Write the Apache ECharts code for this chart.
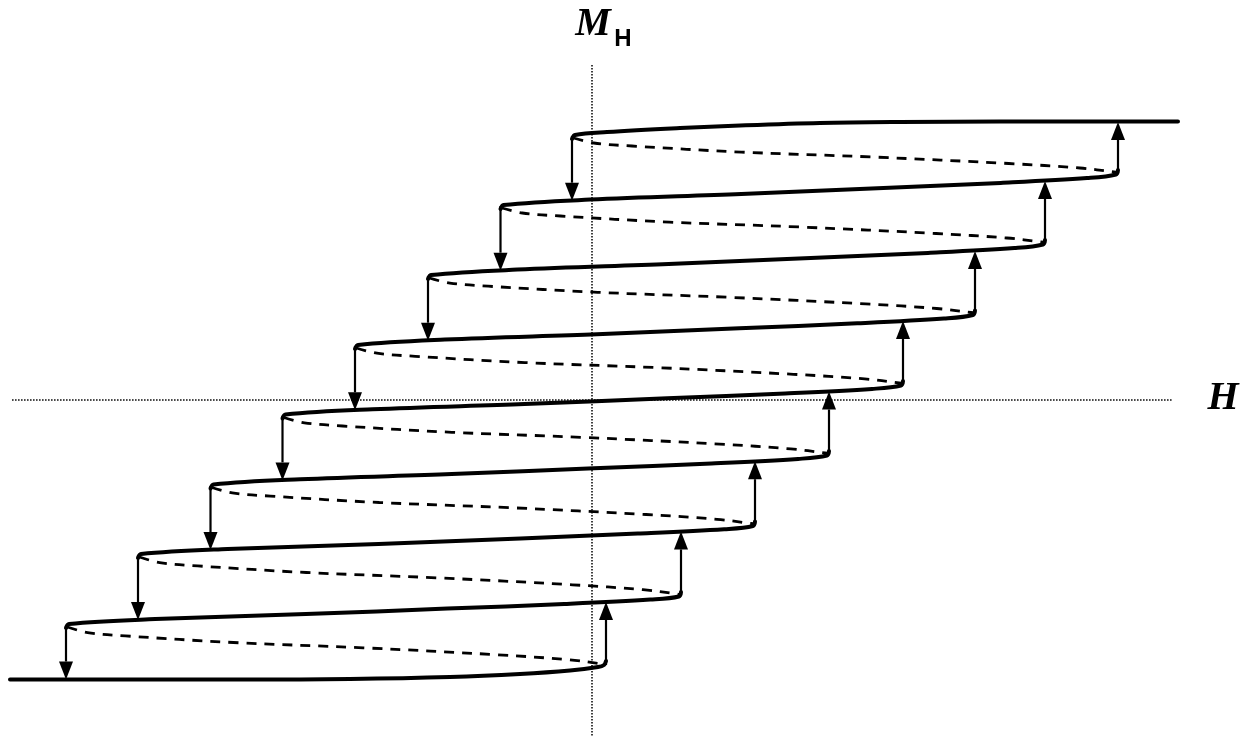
<!DOCTYPE html>
<html>
<head>
<meta charset="utf-8">
<title>Staircase hysteresis M_H(H)</title>
<script src="https://cdn.jsdelivr.net/npm/echarts@6/dist/echarts.min.js"></script>
<style>
  html, body { margin: 0; padding: 0; background: #fff; }
  #chart { width: 1241px; height: 736px; }
</style>
</head>
<body>
<div id="chart"></div>
<script>
// Upper saturation branch (H, M)
const saturationTop = [
  [-0.20, 2.61], [-0.17, 2.65], [0.15, 2.68], [0.88, 2.72], [1.48, 2.745],
  [2.28, 2.77], [3.08, 2.78], [4.08, 2.785], [5.86, 2.785]
];
// Lower saturation branch (H, M)
const saturationBottom = [
  [-5.82, -2.795], [-3.42, -2.795], [-2.42, -2.79], [-1.42, -2.77], [-0.72, -2.74],
  [-0.22, -2.705], [0.06, -2.67], [0.12, -2.65], [0.14, -2.61]
];
// Solid branches between neighbouring plateaus, top to bottom
const solidBranches = [
  [[-0.915, 1.91], [-0.885, 1.95], [-0.02, 2.004], [1.493, 2.059], [2.914, 2.12], [4.087, 2.171], [4.951, 2.219], [5.24, 2.255], [5.26, 2.30]],
  [[-1.64, 1.21], [-1.61, 1.25], [-0.747, 1.304], [0.766, 1.359], [2.187, 1.42], [3.36, 1.471], [4.224, 1.519], [4.51, 1.555], [4.53, 1.60]],
  [[-2.37, 0.51], [-2.34, 0.55], [-1.471, 0.604], [0.048, 0.657], [1.474, 0.717], [2.652, 0.767], [3.52, 0.815], [3.81, 0.85], [3.83, 0.895]],
  [[-3.095, -0.185], [-3.065, -0.145], [-2.195, -0.093], [-0.675, -0.041], [0.752, 0.017], [1.931, 0.065], [2.80, 0.111], [3.09, 0.145], [3.11, 0.19]],
  [[-3.815, -0.885], [-3.785, -0.845], [-2.918, -0.793], [-1.403, -0.741], [0.02, -0.683], [1.195, -0.635], [2.061, -0.589], [2.35, -0.555], [2.37, -0.51]],
  [[-4.54, -1.58], [-4.51, -1.54], [-3.645, -1.49], [-2.134, -1.44], [-0.715, -1.384], [0.458, -1.336], [1.322, -1.292], [1.61, -1.26], [1.63, -1.215]],
  [[-5.26, -2.28], [-5.23, -2.24], [-4.368, -2.191], [-2.861, -2.141], [-1.447, -2.086], [-0.278, -2.04], [0.583, -1.996], [0.87, -1.965], [0.89, -1.92]]
];
// Dashed return curves inside each minor loop, top to bottom
const dashedBranches = [
  [[-0.185, 2.62], [0.018, 2.57], [0.40, 2.54], [1.493, 2.479], [2.803, 2.43], [4.168, 2.365], [4.878, 2.32], [5.22, 2.28], [5.26, 2.27]],
  [[-0.90, 1.92], [-0.697, 1.87], [-0.316, 1.84], [0.773, 1.779], [2.08, 1.73], [3.441, 1.665], [4.149, 1.62], [4.49, 1.58], [4.53, 1.57]],
  [[-1.625, 1.22], [-1.421, 1.169], [-1.038, 1.138], [0.056, 1.077], [1.369, 1.027], [2.736, 0.961], [3.447, 0.915], [3.79, 0.875], [3.83, 0.865]],
  [[-2.355, 0.52], [-2.151, 0.468], [-1.767, 0.437], [-0.671, 0.374], [0.644, 0.324], [2.014, 0.257], [2.726, 0.211], [3.07, 0.17], [3.11, 0.16]],
  [[-3.08, -0.175], [-2.876, -0.228], [-2.494, -0.26], [-1.401, -0.323], [-0.089, -0.374], [1.277, -0.441], [1.987, -0.489], [2.33, -0.53], [2.37, -0.54]],
  [[-3.80, -0.875], [-3.597, -0.929], [-3.216, -0.961], [-2.127, -1.025], [-0.82, -1.077], [0.541, -1.145], [1.249, -1.193], [1.59, -1.235], [1.63, -1.245]],
  [[-4.525, -1.57], [-4.323, -1.626], [-3.943, -1.659], [-2.857, -1.725], [-1.553, -1.778], [-0.196, -1.848], [0.51, -1.897], [0.85, -1.94], [0.89, -1.95]],
  [[-5.245, -2.27], [-5.044, -2.326], [-4.666, -2.359], [-3.586, -2.425], [-2.29, -2.478], [-0.94, -2.548], [-0.238, -2.597], [0.10, -2.64], [0.14, -2.65]]
];
// Jumps up: [H, M from, M to]
const upJumps = [
  [5.26, 2.27, 2.78], [4.53, 1.57, 2.19], [3.83, 0.865, 1.49], [3.11, 0.16, 0.79],
  [2.37, -0.54, 0.085], [1.63, -1.245, -0.612], [0.89, -1.95, -1.314], [0.14, -2.65, -2.019]
];
// Jumps down: [H, M from, M to]
const downJumps = [
  [-0.20, 2.64, 1.993], [-0.915, 1.94, 1.293], [-1.64, 1.24, 0.593], [-2.37, 0.54, -0.103],
  [-3.095, -0.16, -0.804], [-3.815, -0.86, -1.50], [-4.54, -1.56, -2.201], [-5.26, -2.26, -2.795]
];
// Coordinate axes (dotted)
const hAxisLine = [[-5.80, 0], [5.81, 0]];
const mAxisLine = [[0, 3.35], [0, -3.36]];

const chart = echarts.init(document.getElementById('chart'), null, { renderer: 'canvas' });

const series = [];
[hAxisLine, mAxisLine].forEach(function (d) {
  series.push({
    type: 'line', data: d, symbol: 'none', silent: true, z: 1,
    lineStyle: { color: '#111', width: 1.6, type: [1.6, 1.4] }
  });
});
[saturationTop, saturationBottom].concat(solidBranches).forEach(function (d) {
  series.push({
    type: 'line', data: d, symbol: 'none', smooth: 0.35, z: 3,
    lineStyle: { color: '#000', width: 4, cap: 'round', join: 'round' }
  });
});
dashedBranches.forEach(function (d) {
  series.push({
    type: 'line', data: d, symbol: 'none', smooth: 0.35, z: 2,
    lineStyle: { color: '#000', width: 2.8, type: [10, 8] }
  });
});

function renderJump(params, api) {
  const x = api.value(0), m0 = api.value(1), m1 = api.value(2);
  const p0 = api.coord([x, m0]);
  const p1 = api.coord([x, m1]);
  const dir = p1[1] > p0[1] ? 1 : -1;
  const headLen = 18, half = 7;
  const base = p1[1] - dir * headLen;
  return {
    type: 'group',
    children: [
      { type: 'line', shape: { x1: p0[0], y1: p0[1], x2: p1[0], y2: base },
        style: { stroke: '#000', lineWidth: 2.2 } },
      { type: 'polygon', shape: { points: [[p1[0], p1[1]], [p1[0] - half, base], [p1[0] + half, base]] },
        style: { fill: '#000' } }
    ]
  };
}
[upJumps, downJumps].forEach(function (d) {
  series.push({
    type: 'custom', data: d, renderItem: renderJump, z: 4,
    dimensions: ['H', 'from', 'to'], encode: { x: 0, y: [1, 2] }
  });
});

chart.setOption({
  animation: false,
  backgroundColor: '#fff',
  grid: { left: 0, right: 0, top: 0, bottom: 0, containLabel: false },
  xAxis: { type: 'value', min: -5.92, max: 6.49, show: false },
  yAxis: { type: 'value', min: -3.36, max: 4.00, show: false },
  graphic: [
    { type: 'text', x: 593, y: 25, z: 10,
      style: { text: 'M', font: 'italic bold 40px "Liberation Serif"', fill: '#000', align: 'center', verticalAlign: 'middle' } },
    { type: 'text', x: 623, y: 39.5, z: 10,
      style: { text: 'H', font: 'bold 24px "Liberation Sans"', fill: '#000', align: 'center', verticalAlign: 'middle' } },
    { type: 'text', x: 1223, y: 399, z: 10,
      style: { text: 'H', font: 'italic bold 40px "Liberation Serif"', fill: '#000', align: 'center', verticalAlign: 'middle' } }
  ],
  series: series
});
</script>
</body>
</html>
